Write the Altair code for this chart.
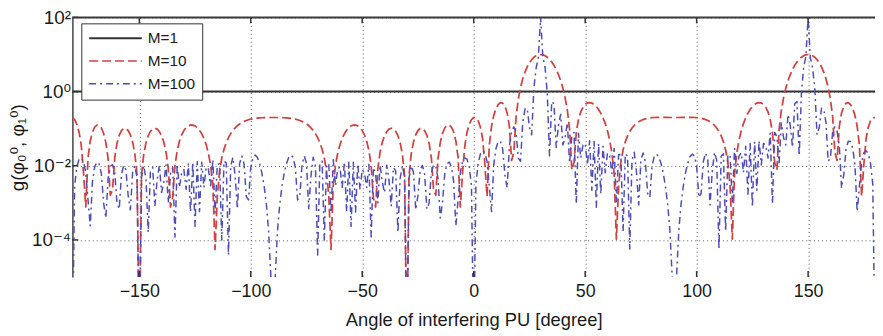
import altair as alt
import pandas as pd

FONT = "Liberation Sans, Arial, DejaVu Sans, sans-serif"

SERIES = ["M=1", "M=10", "M=100"]
COLORS = ["#333333", "#d2403f", "#4d4db8"]
DASHES = [[1, 0], [9, 4], [7, 4, 2, 4]]
WIDTHS = [2.0, 1.5, 1.3]

X_TICKS = [-150, -100, -50, 0, 50, 100, 150]
Y_TICKS = [1e-4, 1e-2, 1, 1e2]

# angles in degrees, one sample per degree
ANG_Q1 = list(range(-180, -89))   # -180 .. -90
ANG_Q2 = list(range(-89, 1))      # -89 .. 0
ANG_Q3 = list(range(1, 91))       # 1 .. 90
ANG_Q4 = list(range(91, 181))     # 91 .. 180

M1_ANG = [-180, 180]
M1_VAL = [1, 1]

# M=10 (red dashed)
m10_q1 = [0.2, 0.176, 0.131, 0.0797, 0.0344, 0.0063, 0.00077, 0.0165, 0.0468, 0.0816,
          0.11, 0.125, 0.122, 0.104, 0.0741, 0.0421, 0.0158, 0.0016, 0.0022, 0.0165,
          0.04, 0.0662, 0.0883, 0.101, 0.101, 0.0892, 0.0685, 0.044, 0.0213, 0.0056,
          1e-7, 0.0055, 0.0206, 0.0418, 0.0648, 0.0849, 0.0982, 0.103, 0.0973, 0.0837,
          0.0644, 0.0431, 0.0233, 0.0085, 0.00077, 0.0014, 0.0101, 0.0256, 0.0456, 0.0676,
          0.0888, 0.107, 0.119, 0.126, 0.125, 0.119, 0.107, 0.0908, 0.0727, 0.0542,
          0.0368, 0.0218, 0.0103, 0.003, 0.000055, 0.0015, 0.007, 0.0161, 0.028, 0.042,
          0.0574, 0.0735, 0.0896, 0.105, 0.12, 0.134, 0.146, 0.157, 0.166, 0.174,
          0.18, 0.186, 0.19, 0.193, 0.195, 0.197, 0.198, 0.199, 0.2, 0.2,
          0.2]
m10_q2 = [0.2, 0.2, 0.199, 0.198, 0.197, 0.195, 0.193, 0.19, 0.186, 0.18,
          0.174, 0.166, 0.157, 0.146, 0.134, 0.12, 0.105, 0.0896, 0.0735, 0.0574,
          0.042, 0.028, 0.0161, 0.007, 0.0015, 0.000055, 0.003, 0.0103, 0.0218, 0.0368,
          0.0542, 0.0727, 0.0908, 0.107, 0.119, 0.125, 0.126, 0.119, 0.107, 0.0888,
          0.0676, 0.0456, 0.0256, 0.0101, 0.0014, 0.00077, 0.0085, 0.0233, 0.0431, 0.0644,
          0.0837, 0.0973, 0.103, 0.0982, 0.0849, 0.0648, 0.0418, 0.0206, 0.0055, 1e-7,
          0.0056, 0.0213, 0.044, 0.0685, 0.0892, 0.101, 0.101, 0.0883, 0.0662, 0.04,
          0.0165, 0.0022, 0.0016, 0.0158, 0.0421, 0.0741, 0.104, 0.122, 0.125, 0.11,
          0.0816, 0.0468, 0.0165, 0.00077, 0.0063, 0.0344, 0.0797, 0.131, 0.176, 0.2]
m10_q3 = [0.196, 0.164, 0.111, 0.0535, 0.011, 0.0015, 0.0362, 0.116, 0.228, 0.348,
          0.449, 0.502, 0.487, 0.402, 0.266, 0.117, 0.0139, 0.0229, 0.209, 0.623,
          1.29, 2.22, 3.36, 4.64, 5.98, 7.26, 8.39, 9.27, 9.82, 10,
          9.81, 9.29, 8.47, 7.46, 6.3, 5.1, 3.94, 2.88, 1.97, 1.24,
          0.689, 0.315, 0.0978, 0.0078, 0.0122, 0.0784, 0.177, 0.283, 0.378, 0.45,
          0.493, 0.505, 0.489, 0.45, 0.395, 0.33, 0.262, 0.196, 0.137, 0.0876,
          0.0489, 0.0219, 0.006, 0.000105, 0.0028, 0.0122, 0.0266, 0.0444, 0.0639, 0.084,
          0.104, 0.122, 0.139, 0.153, 0.166, 0.176, 0.184, 0.19, 0.195, 0.198,
          0.2, 0.202, 0.202, 0.202, 0.202, 0.201, 0.201, 0.2, 0.2, 0.2]
m10_q4 = [0.2, 0.2, 0.201, 0.201, 0.202, 0.202, 0.202, 0.202, 0.2, 0.198,
          0.195, 0.19, 0.184, 0.176, 0.166, 0.153, 0.139, 0.122, 0.104, 0.084,
          0.0639, 0.0444, 0.0266, 0.0122, 0.0028, 0.000105, 0.006, 0.0219, 0.0489, 0.0876,
          0.137, 0.196, 0.262, 0.33, 0.395, 0.45, 0.489, 0.505, 0.493, 0.45,
          0.378, 0.283, 0.177, 0.0784, 0.0122, 0.0078, 0.0978, 0.315, 0.689, 1.24,
          1.97, 2.88, 3.94, 5.1, 6.3, 7.46, 8.47, 9.29, 9.81, 10,
          9.82, 9.27, 8.39, 7.26, 5.98, 4.64, 3.36, 2.22, 1.29, 0.623,
          0.209, 0.0229, 0.0139, 0.117, 0.266, 0.402, 0.487, 0.502, 0.449, 0.348,
          0.228, 0.116, 0.0362, 0.0015, 0.011, 0.0535, 0.111, 0.164, 0.196, 0.2]

# M=100 (blue dash-dot)
m100_q1 = [1e-7, 0.0029, 0.0093, 0.015, 0.0164, 0.0128, 0.0064, 0.0012, 0.00024, 0.0038,
           0.0093, 0.0126, 0.0112, 0.006, 0.001, 0.00039, 0.0045, 0.0097, 0.0107, 0.0064,
           0.001, 0.00068, 0.0058, 0.0102, 0.0078, 0.0016, 0.00065, 0.0066, 0.01, 0.0047,
           1e-7, 0.0049, 0.01, 0.0045, 0.00016, 0.0073, 0.009, 0.00081, 0.0041, 0.0103,
           0.0019, 0.0036, 0.0105, 0.001, 0.0061, 0.009, 0.00012, 0.0109, 0.0026, 0.0064,
           0.0079, 0.0023, 0.0112, 0.00057, 0.0125, 0.00023, 0.0129, 0.00058, 0.0125, 0.0026,
           0.0093, 0.0081, 0.0029, 0.0146, 0.00054, 0.0108, 0.0114, 0.0001, 0.0133, 0.0119,
           0.000039, 0.0099, 0.0169, 0.0053, 0.00069, 0.0116, 0.0183, 0.0111, 0.0015, 0.0012,
           0.009, 0.0168, 0.0194, 0.0166, 0.0113, 0.0063, 0.0028, 0.00091, 0.00018, 0.000011,
           1e-7]
m100_q2 = [0.000011, 0.00018, 0.00091, 0.0028, 0.0063, 0.0113, 0.0166, 0.0194, 0.0168, 0.009,
           0.0012, 0.0015, 0.0111, 0.0183, 0.0116, 0.00069, 0.0053, 0.0169, 0.0099, 0.000039,
           0.0119, 0.0133, 0.0001, 0.0114, 0.0108, 0.00054, 0.0146, 0.0029, 0.0081, 0.0093,
           0.0026, 0.0125, 0.00058, 0.0129, 0.00023, 0.0125, 0.00057, 0.0112, 0.0023, 0.0079,
           0.0064, 0.0026, 0.0109, 0.00012, 0.009, 0.0061, 0.001, 0.0105, 0.0036, 0.0019,
           0.0103, 0.0041, 0.00081, 0.009, 0.0073, 0.00016, 0.0045, 0.01, 0.0049, 1e-7,
           0.0047, 0.01, 0.0066, 0.00065, 0.0016, 0.0078, 0.0102, 0.0058, 0.00068, 0.001,
           0.0064, 0.0107, 0.0097, 0.0045, 0.00039, 0.001, 0.006, 0.0112, 0.0126, 0.0093,
           0.0038, 0.00024, 0.0012, 0.0064, 0.0128, 0.0164, 0.015, 0.0093, 0.0029, 1e-7]
m100_q3 = [0.0032, 0.0116, 0.0208, 0.0255, 0.0223, 0.0126, 0.0027, 0.00058, 0.0107, 0.0293,
           0.0451, 0.0457, 0.0281, 0.0057, 0.0025, 0.0336, 0.0845, 0.112, 0.0805, 0.0161,
           0.0132, 0.147, 0.338, 0.356, 0.109, 0.0685, 1.26, 4.32, 8.26, 100,
           8.85, 4.53, 0.903, 0.0185, 0.539, 0.468, 0.0312, 0.122, 0.243, 0.0364,
           0.0571, 0.142, 0.012, 0.0611, 0.0791, 0.00094, 0.0757, 0.0162, 0.036, 0.0401,
           0.0106, 0.0474, 0.0022, 0.0449, 0.00076, 0.04, 0.0017, 0.0336, 0.0065, 0.0223,
           0.0182, 0.0062, 0.0294, 0.001, 0.0197, 0.0197, 0.00017, 0.0211, 0.0181, 0.000057,
           0.014, 0.023, 0.007, 0.00088, 0.0144, 0.022, 0.013, 0.0018, 0.0014, 0.0099,
           0.0182, 0.0206, 0.0174, 0.0117, 0.0064, 0.0028, 0.00092, 0.00018, 0.000011, 1e-7]
m100_q4 = [0.000011, 0.00018, 0.00092, 0.0028, 0.0064, 0.0117, 0.0174, 0.0206, 0.0182, 0.0099,
           0.0014, 0.0018, 0.013, 0.022, 0.0144, 0.00088, 0.007, 0.023, 0.014, 0.000057,
           0.0181, 0.0211, 0.00017, 0.0197, 0.0197, 0.001, 0.0294, 0.0062, 0.0182, 0.0223,
           0.0065, 0.0336, 0.0017, 0.04, 0.00076, 0.0449, 0.0022, 0.0474, 0.0106, 0.0401,
           0.036, 0.0162, 0.0757, 0.00094, 0.0791, 0.0611, 0.012, 0.142, 0.0571, 0.0364,
           0.243, 0.122, 0.0312, 0.468, 0.539, 0.0185, 0.903, 4.53, 8.85, 100,
           8.26, 4.32, 1.26, 0.0685, 0.109, 0.356, 0.338, 0.147, 0.0132, 0.0161,
           0.0805, 0.112, 0.0845, 0.0336, 0.0025, 0.0057, 0.0281, 0.0457, 0.0451, 0.0293,
           0.0107, 0.00058, 0.0027, 0.0126, 0.0223, 0.0255, 0.0208, 0.0116, 0.0032, 1e-7]

ANGLES = ANG_Q1 + ANG_Q2 + ANG_Q3 + ANG_Q4
M10 = m10_q1 + m10_q2 + m10_q3 + m10_q4
M100 = m100_q1 + m100_q2 + m100_q3 + m100_q4

rows = []
for a, v in zip(M1_ANG, M1_VAL):
    rows.append({"angle": a, "g": v, "series": "M=1"})
for a, v in zip(ANGLES, M10):
    rows.append({"angle": a, "g": v, "series": "M=10"})
for a, v in zip(ANGLES, M100):
    rows.append({"angle": a, "g": v, "series": "M=100"})
df = pd.DataFrame(rows)

W, H = 810, 262
XT = "Angle of interfering PU [degree]"
YT = "g(φ₀⁰, φ₁⁰)"

y_label_expr = ("datum.value > 10 ? '10²' : datum.value > 0.1 ? '10⁰' : "
                "datum.value > 0.001 ? '10⁻²' : '10⁻⁴'")

lines = alt.Chart(df).mark_line(clip=True, strokeJoin="round").encode(
    x=alt.X("angle:Q", title=XT,
            scale=alt.Scale(domain=[-180, 180], nice=False, zero=False),
            axis=alt.Axis(values=X_TICKS, grid=True, ticks=False, domain=False,
                          labelFontSize=18, labelPadding=6, titleFontSize=18.5,
                          titlePadding=10, labelFlush=False)),
    y=alt.Y("g:Q", title=YT,
            scale=alt.Scale(type="log", domain=[1e-5, 1e2], nice=False),
            axis=alt.Axis(values=Y_TICKS, labelExpr=y_label_expr, grid=True, ticks=False,
                          domain=True, domainColor="#444444", domainWidth=1.5,
                          labelFontSize=19, labelPadding=2, titleFontSize=19,
                          titlePadding=4)),
    color=alt.Color("series:N", scale=alt.Scale(domain=SERIES, range=COLORS),
                    legend=alt.Legend(title=None)),
    strokeDash=alt.StrokeDash("series:N", scale=alt.Scale(domain=SERIES, range=DASHES),
                              legend=alt.Legend(title=None)),
    strokeWidth=alt.StrokeWidth("series:N", scale=alt.Scale(domain=SERIES, range=WIDTHS),
                                legend=None),
)

xt_df = pd.DataFrame({"angle": X_TICKS})
yt_df = pd.DataFrame({"g": Y_TICKS})

top_ticks = alt.Chart(xt_df).mark_rule(color="#333333", strokeWidth=1.5).encode(
    x=alt.X("angle:Q", title=XT), y=alt.value(0), y2=alt.value(6))
bottom_ticks = alt.Chart(xt_df).mark_rule(color="#333333", strokeWidth=1.5).encode(
    x=alt.X("angle:Q", title=XT), y=alt.value(H), y2=alt.value(H - 6))
left_ticks = alt.Chart(yt_df).mark_rule(color="#333333", strokeWidth=1.5).encode(
    y=alt.Y("g:Q", title=YT), x=alt.value(0), x2=alt.value(6))
top_border = alt.Chart(pd.DataFrame({"k": [0]})).mark_rule(
    color="#3a3a3a", strokeWidth=2).encode(x=alt.value(0), x2=alt.value(W), y=alt.value(0))

chart = alt.layer(lines, top_ticks, bottom_ticks, left_ticks, top_border).properties(
    width=W, height=H,
    autosize=alt.AutoSizeParams(type="none"),
    padding={"left": 65, "top": 8, "right": 0, "bottom": 54},
).configure_view(stroke=None).configure_axis(
    labelFont=FONT, titleFont=FONT, labelColor="#1a1a1a", titleColor="#1a1a1a",
    titleFontWeight="normal", gridColor="#555555", gridDash=[1, 3], gridWidth=1,
    gridOpacity=1,
).configure_legend(
    orient="none", legendX=9, legendY=6, fillColor="white", strokeColor="#333333",
    padding=7, symbolType="stroke", symbolSize=2809, symbolStrokeWidth=1.6,
    labelFont=FONT, labelFontSize=15.5, labelColor="#1a1a1a", rowPadding=6,
    labelOffset=5, cornerRadius=0, clipHeight=16,
)

chart.save("out.html", embed_options={"renderer": "svg", "actions": False})
